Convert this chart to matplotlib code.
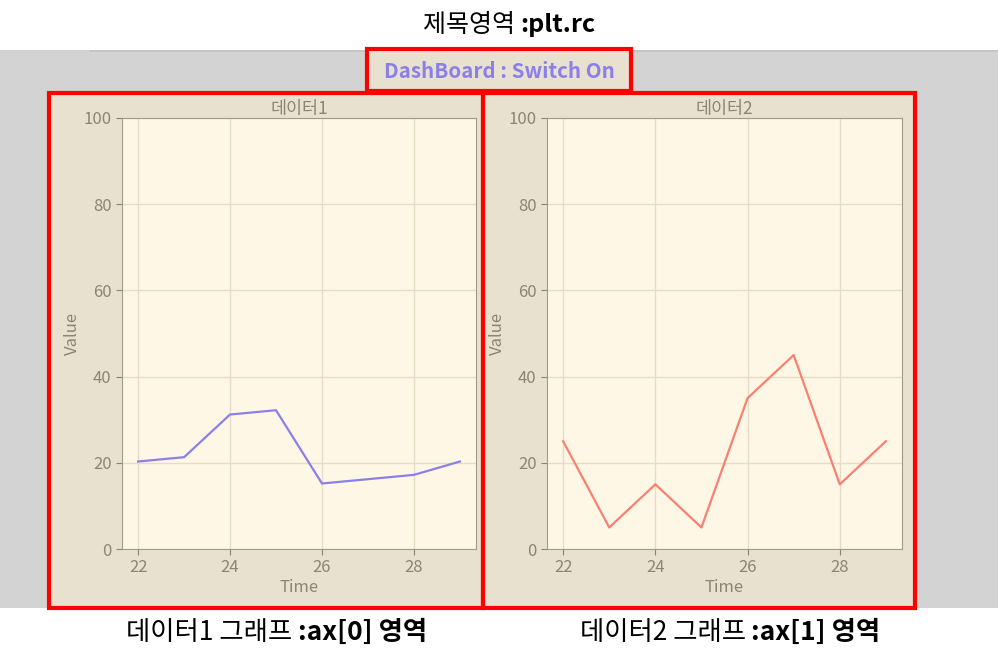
import matplotlib
matplotlib.use('Agg')
import matplotlib.pyplot as plt
from matplotlib.patches import Rectangle

plt.rcParams['font.family'] = ['Noto Sans CJK KR', 'DejaVu Sans']

# data
time = [22, 23, 24, 25, 26, 27, 28, 29]
data1 = [20.3, 21.3, 31.2, 32.2, 15.2, 16.2, 17.2, 20.3]
data2 = [25, 5, 15, 5, 35, 45, 15, 25]
subtitles = ['데이터1', '데이터2']
colors = ['#8b80e8', '#fa8072']

W, H = 998, 663
fig = plt.figure(figsize=(W / 100, H / 100), dpi=100, facecolor='white')

def fx(x):
    return x / W

def fy(y):
    return 1 - y / H

def rect(x0, y0, x1, y1, **kw):
    r = Rectangle((fx(x0), fy(y1)), fx(x1) - fx(x0), fy(y0) - fy(y1),
                  transform=fig.transFigure, **kw)
    fig.add_artist(r)
    return r

# background regions
rect(0, 50, 998, 608, facecolor='#d3d3d3', edgecolor='none', zorder=0)
fig.add_artist(plt.Line2D([fx(90), fx(998)], [fy(51), fy(51)], transform=fig.transFigure,
                          color='#c2c2c2', lw=1.2, zorder=0.5))
rect(50, 93, 915, 608, facecolor='#e8e1cf', edgecolor='none', zorder=0.5)
rect(367, 50, 631, 91, facecolor='#e8e1cf', edgecolor='none', zorder=0.5)

tick_c = '#8c8475'
spine_c = '#a39a88'
axpos = [(122, 476), (547, 902)]
for i, d in enumerate([data1, data2]):
    x0, x1 = axpos[i]
    ax = fig.add_axes([fx(x0), fy(549), fx(x1) - fx(x0), fy(118) - fy(549)])
    ax.set_zorder(5)
    ax.set_facecolor('#fff7e6')
    ax.plot(time, d, color=colors[i], lw=1.6)
    ax.set_ylim(0, 100)
    ax.set_xticks([22, 24, 26, 28])
    ax.set_yticks([0, 20, 40, 60, 80, 100])
    ax.grid(True, color='#e6dcc6', lw=1)
    ax.set_axisbelow(True)
    for s in ax.spines.values():
        s.set_color(spine_c)
    ax.tick_params(colors=tick_c, labelsize=12, length=4)
    ax.set_title(subtitles[i], color=tick_c, fontsize=12.5, pad=3)
    ax.set_xlabel('Time', color=tick_c, fontsize=12, labelpad=2)
    ax.set_ylabel('Value', color=tick_c, fontsize=12, labelpad=2)

fig.text(fx(499), fy(71), 'DashBoard : Switch On', color='#8b80e8', fontsize=14.8,
         fontweight='bold', ha='center', va='center')

# red annotation boxes
for b in [(367, 49, 631, 91), (49, 93, 483, 608), (483, 93, 915, 608)]:
    rect(*b, facecolor='none', edgecolor='#ff0000', lw=3, zorder=10)

# annotation labels: regular part + bold part
fig.canvas.draw()
rend = fig.canvas.get_renderer()

def twopart(xc, y, a, b, size):
    t1 = fig.text(0, fy(y), a, fontsize=size, color='black', va='center')
    t2 = fig.text(0, fy(y), b, fontsize=size, color='black', va='center', fontweight='bold')
    w1 = t1.get_window_extent(rend).width
    w2 = t2.get_window_extent(rend).width
    left = xc - (w1 + w2) / 2
    t1.set_x(fx(left))
    t2.set_x(fx(left + w1))

twopart(509, 25, '제목영역 ', ':plt.rc', 18)
twopart(277, 632, '데이터1 그래프 ', ':ax[0] 영역', 19)
twopart(730, 632, '데이터2 그래프 ', ':ax[1] 영역', 19)

fig.savefig('out.png', dpi=100, facecolor='white')
